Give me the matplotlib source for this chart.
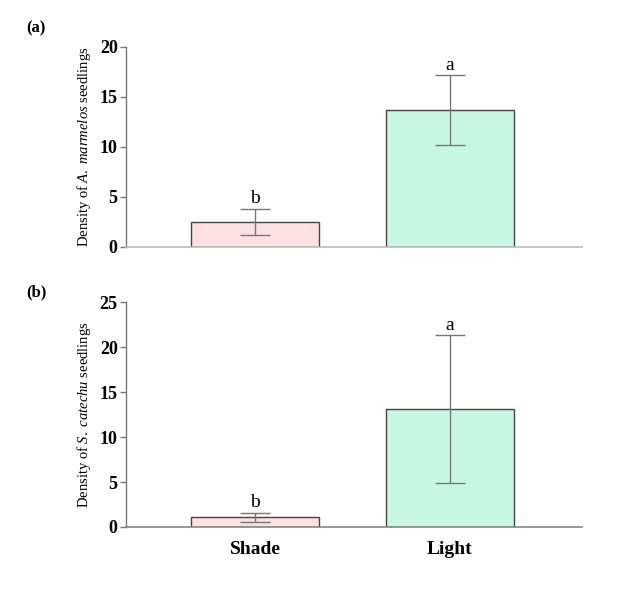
import matplotlib.pyplot as plt

plt.rcParams.update({
    "font.family": "Liberation Serif",
    "mathtext.fontset": "custom",
    "mathtext.it": "Liberation Serif:italic",
    "mathtext.rm": "Liberation Serif",
})

treatments = ["Shade", "Light"]
marmelos_mean = [2.5, 13.7]
marmelos_err = [1.3, 3.5]
catechu_mean = [1.1, 13.1]
catechu_err = [0.5, 8.2]
marmelos_letters = ["b", "a"]
catechu_letters = ["b", "a"]

bar_colors = ["#fde0e0", "#c9f7e5"]
x = [0, 1]

fig = plt.figure(figsize=(6.33, 6.02), dpi=100)
ax_a = fig.add_axes([0.199, 0.590, 0.720, 0.332])
ax_b = fig.add_axes([0.199, 0.1246, 0.720, 0.3734])

panels = [
    (ax_a, marmelos_mean, marmelos_err, marmelos_letters, 20, 5,
     "Density of $\\mathit{A.}$ $\\mathit{marmelos}$ seedlings"),
    (ax_b, catechu_mean, catechu_err, catechu_letters, 25, 5,
     "Density of $\\mathit{S.}$ $\\mathit{catechu}$ seedlings"),
]

for ax, mean, err, letters, ymax, step, ylabel in panels:
    ax.bar(x, mean, width=0.66, color=bar_colors, edgecolor="#444444", linewidth=1.0, zorder=2)
    ax.errorbar(x, mean, yerr=err, fmt="none", ecolor="#777777", elinewidth=1.0,
                capsize=11, capthick=1.0, zorder=3)
    for xi, m, e, lab in zip(x, mean, err, letters):
        ax.annotate(lab, (xi, m + e), xytext=(0, 1), textcoords="offset points",
                    ha="center", va="bottom", fontsize=14)
    ax.set_xlim(-0.662, 1.677)
    ax.set_ylim(0, ymax)
    ax.set_yticks(range(0, ymax + 1, step))
    ax.tick_params(axis="y", direction="out", length=4, width=1, color="#777777",
                   labelsize=13, pad=2)
    for t in ax.get_yticklabels():
        t.set_fontweight("bold")
    ax.tick_params(axis="x", length=0)
    ax.spines["top"].set_visible(False)
    ax.spines["right"].set_visible(False)
    ax.spines["left"].set_color("#777777")
    ax.spines["bottom"].set_color("#888888")
    ax.spines["left"].set_linewidth(1.0)
    ax.spines["bottom"].set_linewidth(1.2)
    ax.set_ylabel(ylabel, fontsize=10.5, labelpad=5)

ax_a.spines["bottom"].set_color("#bbbbbb")
ax_a.set_xticks([])
ax_b.set_xticks(x)
ax_b.set_xticklabels(treatments, fontsize=14, fontweight="bold")
ax_b.tick_params(axis="x", pad=10)

fig.text(0.042, 0.953, "(a)", fontsize=12, fontweight="bold", ha="left", va="center")
fig.text(0.042, 0.514, "(b)", fontsize=12, fontweight="bold", ha="left", va="center")

fig.savefig("out.png", dpi=100)
